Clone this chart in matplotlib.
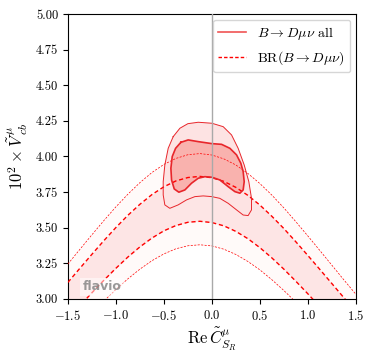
import numpy as np
import matplotlib
matplotlib.use("Agg")
import matplotlib.pyplot as plt

plt.rcParams["font.family"] = "cmr10"
plt.rcParams["mathtext.fontset"] = "cm"
plt.rcParams["axes.formatter.use_mathtext"] = True

# BR(B -> D mu nu) contour lines
c_sr = [-1.5, -1.375, -1.25, -1.125, -1.0, -0.875, -0.75, -0.625, -0.5, -0.375,
        -0.25, -0.125, 0.0, 0.125, 0.25, 0.375, 0.5, 0.625, 0.75, 0.875,
        1.0, 1.125, 1.25, 1.375, 1.5]
br_2s_top = [3.245, 3.348, 3.450, 3.550, 3.646, 3.735, 3.816, 3.887, 3.944, 3.986,
             4.012, 4.020, 4.010, 3.983, 3.940, 3.881, 3.810, 3.729, 3.639, 3.542,
             3.442, 3.340, 3.237, 3.134, 3.033]
br_1s_top = [3.116, 3.215, 3.313, 3.409, 3.501, 3.587, 3.664, 3.732, 3.787, 3.828,
             3.852, 3.860, 3.851, 3.825, 3.783, 3.727, 3.659, 3.580, 3.494, 3.401,
             3.305, 3.207, 3.108, 3.009, 2.912]
br_1s_bot = [2.862, 2.952, 3.043, 3.131, 3.215, 3.294, 3.365, 3.427, 3.478, 3.515,
             3.538, 3.545, 3.536, 3.513, 3.474, 3.423, 3.360, 3.288, 3.209, 3.124,
             3.036, 2.945, 2.854, 2.764, 2.674]
br_2s_bot = [2.728, 2.815, 2.901, 2.985, 3.066, 3.141, 3.209, 3.268, 3.316, 3.352,
             3.373, 3.380, 3.372, 3.349, 3.312, 3.263, 3.204, 3.135, 3.059, 2.978,
             2.894, 2.808, 2.721, 2.635, 2.550]

# combined fit ("all") contours
all_2s_x = [-0.403, -0.333, -0.250, -0.142, 0.000, 0.118, 0.205, 0.274, 0.337, 0.385,
            0.413, 0.413, 0.378, 0.326, 0.257, 0.170, 0.083, 0.000, -0.090, -0.177,
            -0.264, -0.351, -0.438, -0.490, -0.507, -0.507, -0.490, -0.455]
all_2s_y = [4.139, 4.198, 4.230, 4.240, 4.233, 4.209, 4.151, 4.057, 3.940, 3.823,
            3.706, 3.625, 3.585, 3.589, 3.625, 3.671, 3.706, 3.718, 3.723, 3.718,
            3.695, 3.660, 3.636, 3.660, 3.730, 3.823, 3.940, 4.057]
all_1s_x = [-0.323, -0.247, -0.142, 0.000, 0.101, 0.188, 0.257, 0.302, 0.326, 0.337,
            0.326, 0.292, 0.240, 0.170, 0.083, 0.000, -0.073, -0.142, -0.212, -0.281,
            -0.344, -0.392, -0.420, -0.427, -0.413, -0.378]
all_1s_y = [4.099, 4.116, 4.104, 4.090, 4.085, 4.057, 4.011, 3.952, 3.894, 3.823,
            3.765, 3.742, 3.753, 3.788, 3.835, 3.854, 3.858, 3.847, 3.812, 3.765,
            3.749, 3.772, 3.835, 3.917, 3.999, 4.057]

red = "#e8262b"

fig = plt.figure(figsize=(3.73, 3.58), dpi=100)
ax = fig.add_axes([0.182, 0.165, 0.772, 0.796])

# BR bands
ax.fill_between(c_sr, br_2s_bot, br_2s_top, color="#fffaf9", lw=0, zorder=1)
ax.fill_between(c_sr, br_1s_bot, br_1s_top, color="#fde5e5", lw=0, zorder=1.1)

# "all" contours
ax.fill(all_2s_x, all_2s_y, color="#fde3e3", lw=0, zorder=2)
ax.fill(all_1s_x, all_1s_y, color="#f9b2ae", lw=0, zorder=2.1)

for ys, lw in [(br_2s_top, 0.5), (br_1s_top, 1.0), (br_1s_bot, 1.0), (br_2s_bot, 0.5)]:
    ax.plot(c_sr, ys, color="red", ls=(0, (3, 2)) if lw > 0.7 else (0, (3, 2)),
            lw=lw, zorder=3)

ax.plot(all_2s_x + all_2s_x[:1], all_2s_y + all_2s_y[:1], color=red, lw=0.7, zorder=4)
ax.plot(all_1s_x + all_1s_x[:1], all_1s_y + all_1s_y[:1], color=red, lw=1.2, zorder=4)

ax.axvline(0, color="darkgray", lw=1.0, zorder=5)

ax.set_xlim(-1.5, 1.5)
ax.set_ylim(3.0, 5.0)
ax.set_xticks([-1.5, -1.0, -0.5, 0.0, 0.5, 1.0, 1.5])
ax.set_yticks([3.0, 3.25, 3.5, 3.75, 4.0, 4.25, 4.5, 4.75, 5.0])
ax.set_yticklabels(["3.00", "3.25", "3.50", "3.75", "4.00", "4.25", "4.50", "4.75", "5.00"])
ax.set_xticklabels(["$-1.5$", "$-1.0$", "$-0.5$", "$0.0$", "$0.5$", "$1.0$", "$1.5$"])
ax.tick_params(labelsize=9, direction="out")
ax.set_xlabel(r"$\mathrm{Re}\, \tilde C_{S_R}^\mu$", fontsize=12, labelpad=2)
ax.set_ylabel(r"$10^2 \times \tilde V_{cb}^\mu$", fontsize=12, labelpad=4)

h1, = ax.plot([], [], color="#f05454", lw=1.2)
h2, = ax.plot([], [], color="red", lw=1.0, ls=(0, (2.5, 1.5)))
ax.legend([h1, h2], [r"$B\to D\mu\nu$ all", r"BR$(B\to D\mu\nu)$"],
          loc="upper right", fontsize=10, framealpha=0.8, borderaxespad=0.4,
          handlelength=2.0)

ax.text(0.05, 0.03, "flavio", transform=ax.transAxes, fontsize=9, family="DejaVu Sans",
        weight="bold", color="gray", alpha=0.8, zorder=6,
        bbox=dict(facecolor="white", edgecolor="none", alpha=0.5, pad=2))

fig.savefig("out.png", dpi=100)
